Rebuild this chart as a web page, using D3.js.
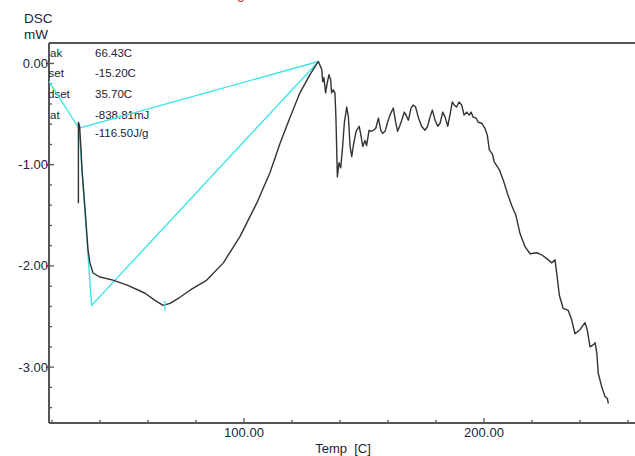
<!DOCTYPE html>
<html><head><meta charset="utf-8">
<script src="https://cdn.jsdelivr.net/npm/d3@7"></script>
<style>
html,body{margin:0;padding:0;background:#fff;}
svg{display:block;font-family:"Liberation Sans",Arial,sans-serif;}
</style></head>
<body><svg id="c" width="635" height="456"></svg>
<script>
// ---- data (Temp °C, DSC mW) ----
const dscTemp = [31.0,31.0,31.5,32.1,32.5,33.8,35.0,35.8,37.1,40.0,45.4,51.3,58.8,62.9,66.3,69.2,73.3,77.5,84.5,91.4,98.3,105.3,110.8,115.0,119.2,123.3,127.5,131.0,
132.4,132.8,133.3,134.0,134.7,135.4,136.1,136.5,137.2,137.9,138.3,138.9,139.6,140.3,141.0,141.8,142.8,143.5,144.2,144.9,145.5,146.7,148.0,148.8,149.5,150.4,151.1,152.1,152.9,153.9,154.9,156.0,157.0,157.8,158.8,159.7,160.8,162.2,163.2,164.0,165.0,166.0,166.8,167.5,168.5,169.6,170.5,171.5,172.6,174.0,175.4,176.5,177.5,178.5,179.6,180.7,181.7,182.8,183.8,184.9,185.8,186.8,187.6,188.6,189.6,190.7,191.7,192.8,193.9,194.6,195.5,196.7,197.6,199.0,200.4,
201.4,202.2,203.6,204.2,206.4,208.0,209.7,211.5,213.3,215.0,217.1,219.2,222.0,224.0,226.8,228.2,229.6,230.5,231.4,233.0,235.1,236.5,237.9,240.0,242.1,243.0,244.2,245.5,246.3,247.0,247.6,249.0,250.4,251.4,251.8];
const dscValue = [-1.38,-0.58,-0.62,-0.85,-1.05,-1.45,-1.84,-1.97,-2.07,-2.11,-2.14,-2.19,-2.27,-2.34,-2.39,-2.37,-2.31,-2.24,-2.14,-1.97,-1.71,-1.38,-1.08,-0.79,-0.53,-0.29,-0.11,0.02,
-0.06,-0.18,-0.14,-0.29,-0.19,-0.11,-0.16,-0.29,-0.26,-0.29,-0.53,-1.12,-0.98,-1.03,-0.85,-0.59,-0.43,-0.53,-0.82,-0.92,-0.82,-0.67,-0.62,-0.72,-0.82,-0.76,-0.81,-0.66,-0.67,-0.66,-0.64,-0.54,-0.66,-0.69,-0.67,-0.59,-0.51,-0.44,-0.58,-0.67,-0.61,-0.54,-0.48,-0.51,-0.56,-0.44,-0.41,-0.43,-0.53,-0.62,-0.66,-0.62,-0.53,-0.46,-0.56,-0.62,-0.59,-0.48,-0.53,-0.62,-0.51,-0.38,-0.41,-0.43,-0.38,-0.41,-0.51,-0.48,-0.51,-0.48,-0.53,-0.54,-0.58,-0.59,-0.64,
-0.71,-0.85,-0.90,-0.97,-1.05,-1.15,-1.28,-1.40,-1.50,-1.68,-1.81,-1.88,-1.87,-1.89,-1.94,-1.97,-1.94,-2.11,-2.29,-2.42,-2.44,-2.53,-2.67,-2.63,-2.56,-2.63,-2.80,-2.78,-2.76,-2.86,-3.06,-3.19,-3.29,-3.31,-3.36];
// analysis construction lines (cyan)
const baseTemp = [18.75,31.25,131.0];
const baseValue = [-0.18,-0.64,0.02];
const tangTemp = [31.25,36.5,131.0];
const tangValue = [-0.64,-2.39,0.02];
const peakMarkTemp = [67.1,67.1];
const peakMarkValue = [-2.35,-2.44];
// annotation (labels are cut by the axis in the reference: visible parts only)
const annLabels = ["ak","set","dset","at",""];
const annValues = ["66.43C","-15.20C","35.70C","-838.81mJ","-116.50J/g"];
// axes
const xMajorTicks = [100,200];
const xMinorTicks = [20,40,60,80,120,140,160,180,220,240,260];
const yMajorTicks = [0,-1,-2,-3];
const yMinorTicks = [0.2,-0.2,-0.4,-0.6,-0.8,-1.2,-1.4,-1.6,-1.8,-2.2,-2.4,-2.6,-2.8,-3.2,-3.4];

const svg = d3.select("#c");
const L=49, T=43, B=423, R=640;
const x = d3.scaleLinear().domain([18.75,265]).range([L,R]);
const y = d3.scaleLinear().domain([-3.552,0.2026]).range([B,T]);
const txt = "#22223a";

svg.append("defs").append("clipPath").attr("id","pa")
  .append("rect").attr("x",L).attr("y",T).attr("width",R-L).attr("height",B-T);

// red partial title at top
svg.append("text").attr("x",237).attr("y",-1).attr("font-size",14).attr("fill","#e03030").text("g");

// y title
svg.append("text").attr("x",24).attr("y",23).attr("font-size",13.5).attr("fill",txt).text("DSC");
svg.append("text").attr("x",24).attr("y",38.5).attr("font-size",13.5).attr("fill",txt).text("mW");

// axis lines / frame
const ax = "#555";
svg.append("line").attr("x1",L).attr("x2",R).attr("y1",T).attr("y2",T).attr("stroke",ax).attr("stroke-width",2);
svg.append("line").attr("x1",L).attr("x2",L).attr("y1",T).attr("y2",B).attr("stroke",ax).attr("stroke-width",2);
svg.append("line").attr("x1",L).attr("x2",R).attr("y1",B).attr("y2",B).attr("stroke",ax).attr("stroke-width",2);

// y ticks
svg.selectAll(".ymaj").data(yMajorTicks).join("line")
  .attr("x1",L-3).attr("x2",L+5).attr("y1",d=>y(d)).attr("y2",d=>y(d)).attr("stroke",ax).attr("stroke-width",1.3);
svg.selectAll(".ymin").data(yMinorTicks).join("line")
  .attr("x1",L).attr("x2",L+3).attr("y1",d=>y(d)).attr("y2",d=>y(d)).attr("stroke",ax).attr("stroke-width",1.3);
svg.selectAll(".ylab").data(yMajorTicks).join("text")
  .attr("x",L-1).attr("y",d=>y(d)+4.5).attr("text-anchor","end").attr("font-size",13).attr("fill",txt)
  .text(d=>d.toFixed(2));

// x ticks
svg.selectAll(".xmaj").data(xMajorTicks).join("line")
  .attr("x1",d=>x(d)).attr("x2",d=>x(d)).attr("y1",B).attr("y2",B-5).attr("stroke",ax).attr("stroke-width",1.3);
svg.selectAll(".xmin").data(xMinorTicks).join("line")
  .attr("x1",d=>x(d)).attr("x2",d=>x(d)).attr("y1",B).attr("y2",B-3).attr("stroke",ax).attr("stroke-width",1.3);
svg.selectAll(".xlab").data(xMajorTicks).join("text")
  .attr("x",d=>x(d)).attr("y",437).attr("text-anchor","middle").attr("font-size",13).attr("fill",txt)
  .text(d=>d.toFixed(2));
svg.append("text").attr("x",343).attr("y",453).attr("text-anchor","middle").attr("font-size",13)
  .attr("fill",txt).style("white-space","pre").text("Temp  [C]");

const g = svg.append("g").attr("clip-path","url(#pa)");

// annotation text
const annY = [57,77,98,118.5,137];
const annX = [50,48.5,48,50,50];
annLabels.forEach((t,i)=>{
  if(t) g.append("text").attr("x",annX[i]).attr("y",annY[i]).attr("font-size",11.5).attr("fill",txt).text(t);
  g.append("text").attr("x",95).attr("y",annY[i]).attr("font-size",11.5).attr("fill",txt).text(annValues[i]);
});

const line = d3.line().x(d=>x(d[0])).y(d=>y(d[1]));
const cyan = "#3de6e6";
g.append("path").attr("d",line(d3.zip(baseTemp,baseValue))).attr("fill","none").attr("stroke",cyan).attr("stroke-width",1.4);
g.append("path").attr("d",line(d3.zip(tangTemp,tangValue))).attr("fill","none").attr("stroke",cyan).attr("stroke-width",1.4);

g.append("path").attr("d",line(d3.zip(dscTemp,dscValue))).attr("fill","none")
  .attr("stroke","#333").attr("stroke-width",1.4).attr("stroke-linejoin","round");
g.append("path").attr("d",line(d3.zip(peakMarkTemp,peakMarkValue))).attr("fill","none").attr("stroke",cyan).attr("stroke-width",1.4);
</script></body></html>
